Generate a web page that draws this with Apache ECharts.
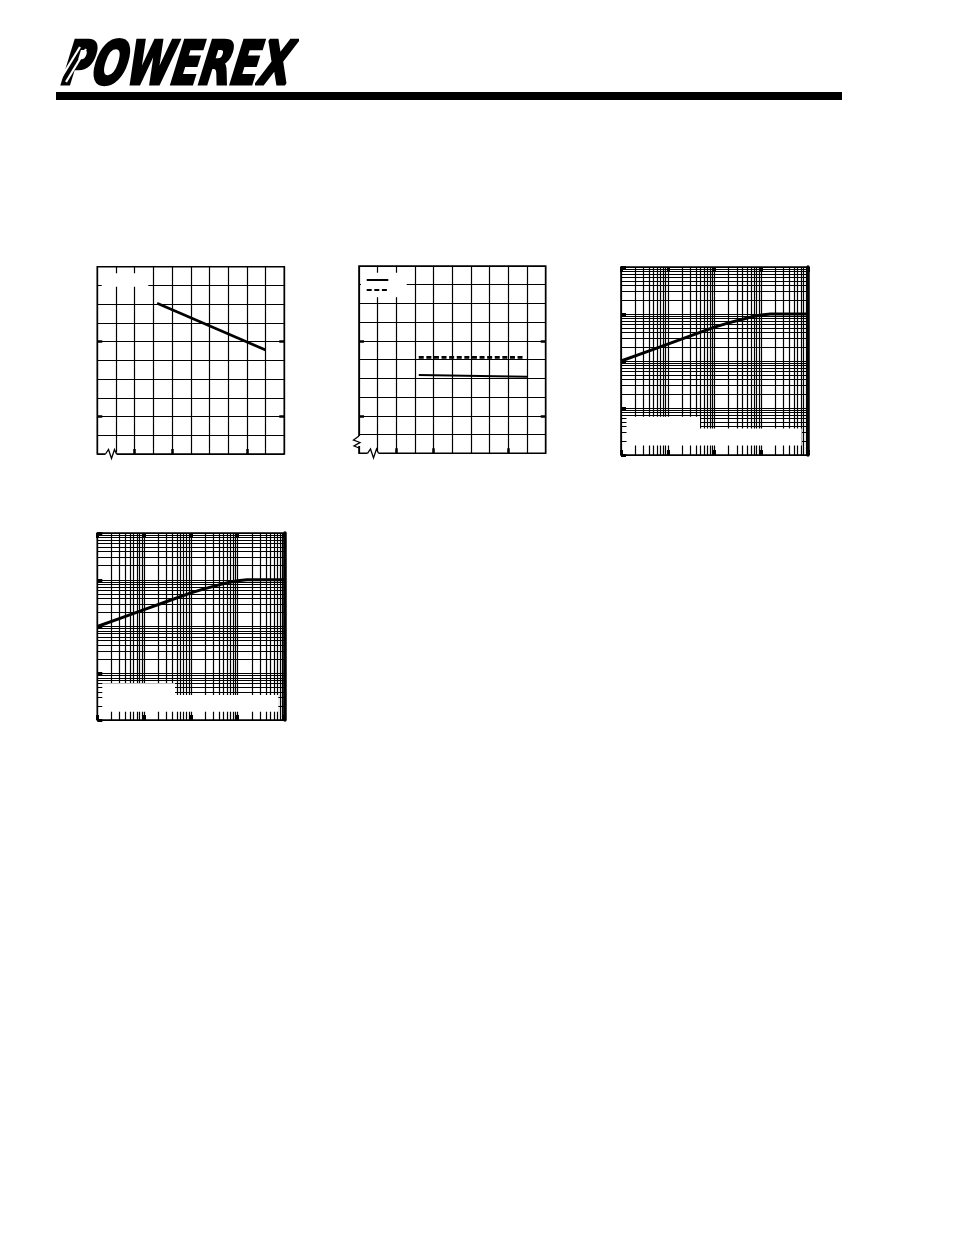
<!DOCTYPE html>
<html>
<head>
<meta charset="utf-8">
<script src="https://cdn.jsdelivr.net/npm/echarts@6/dist/echarts.min.js"></script>
<style>
html,body{margin:0;padding:0;background:#fff;}
#c{width:954px;height:1235px;}
</style>
</head>
<body>
<div id="c"></div>
<script>
// ---------------- data ----------------
// chart 1 (linear 0..10 grid)
const c1X = [3.2, 9.0];
const c1Y = [8.05, 5.55];
// chart 2 (linear 0..10 grid)
const c2DashX = [3.2, 8.85];
const c2DashY = [5.12, 5.12];
const c2SolidX = [3.2, 9.0];
const c2SolidY = [4.18, 4.09];
// chart 3 (log-log, 1..10000)
const c3X = [1, 3.16, 10, 31.6, 100, 200, 400, 630, 1000, 1580, 10000];
const c3Y = [100, 151, 229, 347, 525, 646, 776, 871, 955, 1000, 1000];
// chart 4 (log-log, 1..10000)
const c4X = [1, 3.16, 10, 31.6, 100, 200, 400, 630, 1000, 1580, 10000];
const c4Y = [100, 151, 229, 347, 525, 646, 776, 871, 955, 1000, 1000];
// axis ticks
const linMin = 0, linMax = 10, linStep = 1;
const linBottomMarks = [2, 4, 8];
const linSideMarks = [2, 6];
const logMin = 1, logMax = 10000;
const logGridTicks = [1,2,3,4,5,6,7,8,9,10,20,30,40,50,60,70,80,90,100,200,300,400,500,600,700,800,900,1000,2000,3000,4000,5000,6000,7000,8000,9000,10000];
const logDecades = [1, 10, 100, 1000, 10000];

// ---------------- layout ----------------
const grids = [
  {left: 97.3, top: 266.7, width: 187, height: 187.3},
  {left: 359, top: 266, width: 186.7, height: 187.3},
  {left: 621, top: 267, width: 187, height: 188},
  {left: 97.3, top: 533, width: 187.2, height: 187}
];
const BLACK = '#000';
const xAxes = [], yAxes = [], series = [];
const off = {show: false};

function pairs(xs, ys){ return xs.map((x, i) => [x, ys[i]]); }

function linearGrid(g){
  const xi = xAxes.length, yi = yAxes.length;
  xAxes.push({gridIndex: g, type: 'value', min: linMin, max: linMax, interval: linStep, position: 'bottom',
    axisLine: off, axisTick: off, axisLabel: off,
    splitLine: {show: true, lineStyle: {color: BLACK, width: 1.2}}});
  xAxes.push({gridIndex: g, type: 'value', min: linMin, max: linMax, position: 'bottom',
    axisLine: off, axisLabel: off, splitLine: off,
    axisTick: {show: true, inside: true, length: 5, customValues: linBottomMarks, lineStyle: {color: BLACK, width: 2.5}}});
  yAxes.push({gridIndex: g, type: 'value', min: linMin, max: linMax, interval: linStep, position: 'left',
    axisLine: off, axisTick: off, axisLabel: off,
    splitLine: {show: true, lineStyle: {color: BLACK, width: 1.2}}});
  yAxes.push({gridIndex: g, type: 'value', min: linMin, max: linMax, position: 'left',
    axisLine: off, axisLabel: off, splitLine: off,
    axisTick: {show: true, inside: true, length: 5, customValues: linSideMarks, lineStyle: {color: BLACK, width: 2.5}}});
  yAxes.push({gridIndex: g, type: 'value', min: linMin, max: linMax, position: 'right',
    axisLine: off, axisLabel: off, splitLine: off,
    axisTick: {show: true, inside: true, length: 5, customValues: linSideMarks, lineStyle: {color: BLACK, width: 2.5}}});
  return {xi, yi};
}

function logGrid(g){
  const xi = xAxes.length, yi = yAxes.length;
  const base = {gridIndex: g, type: 'log', logBase: 10, min: logMin, max: logMax, axisLabel: off};
  xAxes.push(Object.assign({}, base, {position: 'bottom', axisLine: off,
    axisTick: {show: false, customValues: logGridTicks},
    splitLine: {show: true, lineStyle: {color: BLACK, width: 1.2}}}));
  xAxes.push(Object.assign({}, base, {position: 'bottom', axisLine: off, splitLine: off,
    axisTick: {show: true, inside: true, length: 5, customValues: logDecades, lineStyle: {color: BLACK, width: 3}}}));
  xAxes.push(Object.assign({}, base, {position: 'top', axisLine: off, splitLine: off,
    axisTick: {show: true, inside: true, length: 5, customValues: logDecades, lineStyle: {color: BLACK, width: 3}}}));
  yAxes.push(Object.assign({}, base, {position: 'left', axisLine: off,
    axisTick: {show: false, customValues: logGridTicks},
    splitLine: {show: true, lineStyle: {color: BLACK, width: 1.2}}}));
  yAxes.push(Object.assign({}, base, {position: 'left', axisLine: off, splitLine: off,
    axisTick: {show: true, inside: true, length: 5, customValues: logDecades, lineStyle: {color: BLACK, width: 3}}}));
  yAxes.push(Object.assign({}, base, {position: 'right', splitLine: off, axisTick: off,
    axisLine: {show: true, lineStyle: {color: BLACK, width: 3.5}}}));
  return {xi, yi};
}

const a1 = linearGrid(0);
const a2 = linearGrid(1);
const a3 = logGrid(2);
const a4 = logGrid(3);

function lineSeries(ax, xs, ys, width, dash){
  return {type: 'line', xAxisIndex: ax.xi, yAxisIndex: ax.yi, data: pairs(xs, ys),
    symbol: 'none', silent: true, animation: false, z: 5,
    lineStyle: {color: BLACK, width: width, type: dash || 'solid', cap: 'butt'}};
}
series.push(lineSeries(a1, c1X, c1Y, 2.6));
series.push(lineSeries(a2, c2DashX, c2DashY, 2.6, [5, 2.6]));
series.push(lineSeries(a2, c2SolidX, c2SolidY, 2));
series.push(lineSeries(a3, c3X, c3Y, 3));
series.push(lineSeries(a4, c4X, c4Y, 3));

// ---------------- decorations ----------------
const W = '#fff';
function rect(x, y, w, h){ return {type: 'rect', z: 100, shape: {x, y, width: w, height: h}, style: {fill: W}}; }
function poly(points, w){ return {type: 'polyline', z: 101, shape: {points}, style: {stroke: BLACK, lineWidth: w || 1.3, fill: null}}; }
function seg(x1, y1, x2, y2, w, dash){ return {type: 'line', z: 101, shape: {x1, y1, x2, y2}, style: {stroke: BLACK, lineWidth: w, lineDash: dash || null}}; }

const graphics = [
  // logo
  {type: 'text', z: 100, x: 72, y: 38, scaleX: 0.68, skewX: -0.3,
    style: {text: 'POWEREX', font: 'bold 60px "DejaVu Sans"', fill: BLACK, stroke: BLACK, lineWidth: 3,
      verticalAlign: 'top', align: 'left'}},
  {type: 'line', z: 101, shape: {x1: 61, y1: 78, x2: 80, y2: 47}, style: {stroke: W, lineWidth: 2.2}},
  {type: 'line', z: 101, shape: {x1: 66, y1: 82, x2: 86, y2: 49}, style: {stroke: W, lineWidth: 2.2}},
  {type: 'rect', z: 100, shape: {x: 56, y: 92, width: 786, height: 8}, style: {fill: BLACK}},
  // erased legend areas
  rect(101.7, 273.3, 46.6, 13.4),
  rect(361, 272.7, 45.7, 24.6),
  seg(366.7, 280, 388.3, 280, 2),
  seg(366.7, 290, 388.3, 290, 2, [5, 2.6]),
  rect(626.5, 416.8, 73.5, 28.7),
  rect(700, 428.5, 101.7, 17),
  rect(102.3, 683.2, 72.7, 28.5),
  rect(175, 695, 103.3, 16.7),
  // axis break marks
  rect(105.5, 452, 11, 4),
  poly([[105.5, 454], [108.5, 449.5], [111.5, 458.5], [114.5, 449.5], [116.5, 454]]),
  rect(357, 436, 4, 10),
  poly([[359, 436], [353.5, 440], [360, 442.5], [354, 446], [359, 448]]),
  rect(367.5, 451.3, 11, 4),
  poly([[367.5, 453.3], [370.5, 449], [373.5, 458], [376.5, 449], [378.5, 453.3]])
];

const chart = echarts.init(document.getElementById('c'), null, {renderer: 'canvas'});
chart.setOption({
  backgroundColor: '#fff',
  animation: false,
  grid: grids.map(g => Object.assign({show: true, borderColor: BLACK, borderWidth: 1.6, backgroundColor: 'transparent', containLabel: false}, g)),
  xAxis: xAxes,
  yAxis: yAxes,
  series: series,
  graphic: {elements: graphics}
});
</script>
</body>
</html>
